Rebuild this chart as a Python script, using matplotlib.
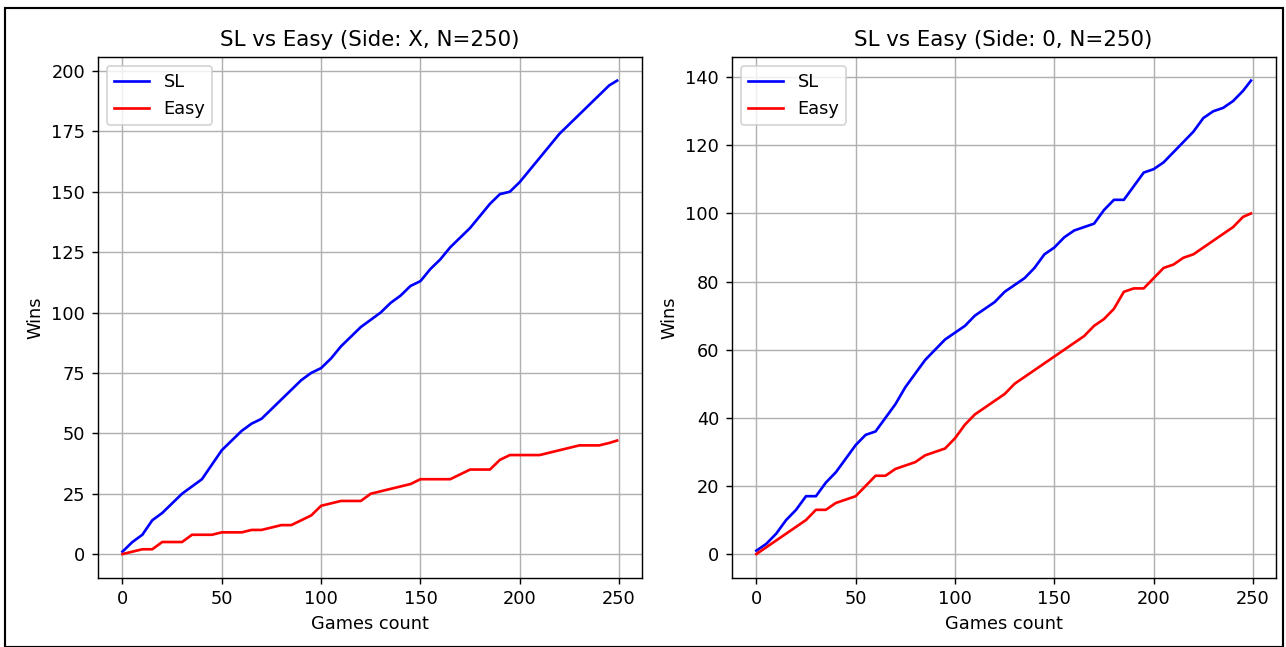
import numpy as np
import matplotlib.pyplot as plt
from matplotlib.patches import Rectangle

x_games = [0, 5, 10, 15, 20, 25, 30, 35, 40, 45, 50, 55, 60, 65, 70, 75, 80, 85, 90, 95,
           100, 105, 110, 115, 120, 125, 130, 135, 140, 145, 150, 155, 160, 165, 170, 175,
           180, 185, 190, 195, 200, 205, 210, 215, 220, 225, 230, 235, 240, 245, 249]

x_sl = [1, 5, 8, 14, 17, 21, 25, 28, 31, 37, 43, 47, 51, 54, 56, 60, 64, 68, 72, 75,
        77, 81, 86, 90, 94, 97, 100, 104, 107, 111, 113, 118, 122, 127, 131, 135,
        140, 145, 149, 150, 154, 159, 164, 169, 174, 178, 182, 186, 190, 194, 196]
x_easy = [0, 1, 2, 2, 5, 5, 5, 8, 8, 8, 9, 9, 9, 10, 10, 11, 12, 12, 14, 16,
          20, 21, 22, 22, 22, 25, 26, 27, 28, 29, 31, 31, 31, 31, 33, 35,
          35, 35, 39, 41, 41, 41, 41, 42, 43, 44, 45, 45, 45, 46, 47]

o_sl = [1, 3, 6, 10, 13, 17, 17, 21, 24, 28, 32, 35, 36, 40, 44, 49, 53, 57, 60, 63,
        65, 67, 70, 72, 74, 77, 79, 81, 84, 88, 90, 93, 95, 96, 97, 101,
        104, 104, 108, 112, 113, 115, 118, 121, 124, 128, 130, 131, 133, 136, 139]
o_easy = [0, 2, 4, 6, 8, 10, 13, 13, 15, 16, 17, 20, 23, 23, 25, 26, 27, 29, 30, 31,
          34, 38, 41, 43, 45, 47, 50, 52, 54, 56, 58, 60, 62, 64, 67, 69,
          72, 77, 78, 78, 81, 84, 85, 87, 88, 90, 92, 94, 96, 99, 100]

dpi = 128
fig, axes = plt.subplots(1, 2, figsize=(1286 / dpi, 647 / dpi), dpi=dpi)
fig.subplots_adjust(left=0.076, right=0.992, top=0.912, bottom=0.107, wspace=0.165)

panels = [(axes[0], x_sl, x_easy, "SL vs Easy (Side: X, N=250)"),
          (axes[1], o_sl, o_easy, "SL vs Easy (Side: 0, N=250)")]

for ax, sl, easy, title in panels:
    ax.plot(x_games, sl, color="blue", label="SL")
    ax.plot(x_games, easy, color="red", label="Easy")
    ax.set_title(title)
    ax.set_xlabel("Games count")
    ax.set_ylabel("Wins")
    ax.grid(True)
    ax.legend(loc="upper left")

axes[0].set_yticks(np.arange(0, 201, 25))
axes[1].set_yticks(np.arange(0, 141, 20))

# thin frame round the figure, as in the screenshot
fig.patches.append(Rectangle((0.004, 0.0), 0.994, 0.988, transform=fig.transFigure,
                             fill=False, edgecolor="black", linewidth=1.2))

fig.savefig("out.png", dpi=dpi)
